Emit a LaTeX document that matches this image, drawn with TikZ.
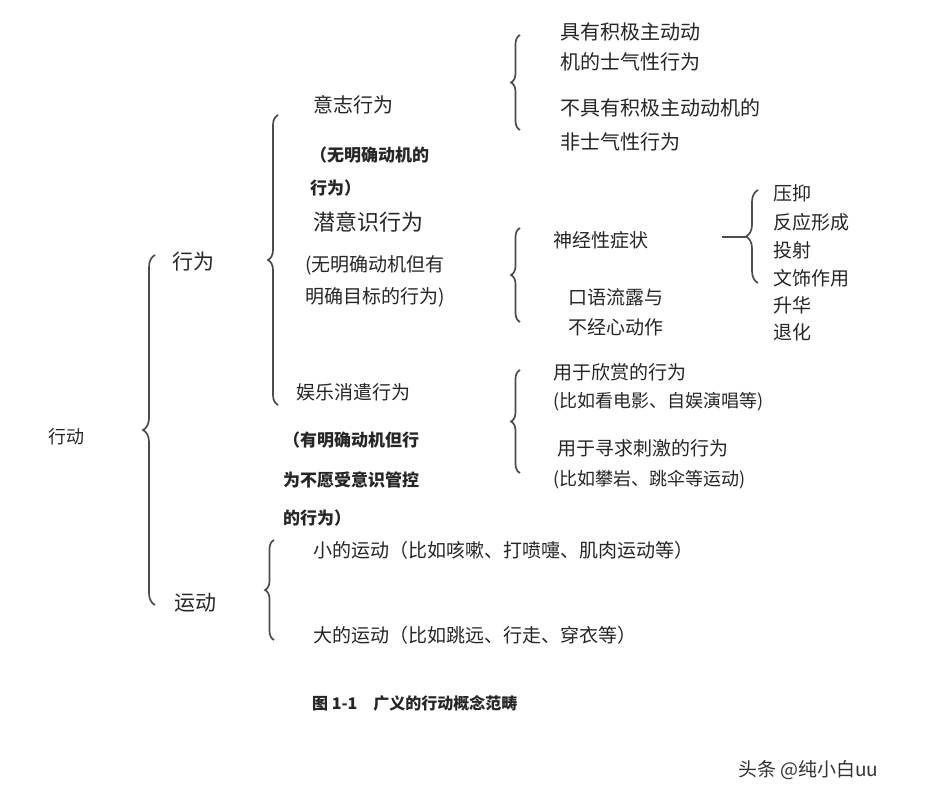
\documentclass[tikz,border=0pt]{standalone}
\usepackage{fontspec}
\setmainfont{Noto Sans CJK SC}
\usetikzlibrary{decorations.pathreplacing}
\begin{document}
\begin{tikzpicture}[x=1pt,y=-1pt,
  t/.style={anchor=west,inner sep=0pt,text=black!85,font=\fontsize{20}{22}\selectfont},
  tb/.style={t,font=\fontsize{17}{20}\bfseries\selectfont},
  br/.style={draw=black!70,line width=1.7pt,decorate,decoration={brace,amplitude=#1}},
  br/.default=9pt]
\fill[white] (0,0) rectangle (937,802);
\useasboundingbox (0,0) rectangle (937,802);
% left column
\node[t,font=\fontsize{18}{20}\selectfont] (xd) at (48,437) {行动};
\node[t,font=\fontsize{21}{22}\selectfont] (xw) at (172,262) {行为};
\node[t,font=\fontsize{21}{22}\selectfont] (yd) at (174,603) {运动};
\draw[br=12pt] (155,605) -- (155,255);
\draw[br=10pt] (278,405) -- (278,115);
\draw[br=9pt] (274,640) -- (274,540);
% middle column
\node[t] (yz) at (313,105) {意志行为};
\node[tb] (yz1) at (310,155) {（无明确动机的};
\node[tb] (yz2) at (310,188) {行为）};
\node[t,font=\fontsize{22}{24}\selectfont] (qy) at (313,222) {潜意识行为};
\node[t,font=\fontsize{19}{22}\selectfont] (qy1) at (305,265) {(无明确动机但有};
\node[t,font=\fontsize{19}{22}\selectfont] (qy2) at (305,297) {明确目标的行为)};
\node[t,font=\fontsize{19}{22}\selectfont] (yl) at (296,392) {娱乐消遣行为};
\node[tb] (yl1) at (283,440) {（有明确动机但行};
\node[tb] (yl2) at (283,480) {为不愿受意识管控};
\node[tb] (yl3) at (283,518) {的行为）};
\node[t,font=\fontsize{19}{22}\selectfont] (xy) at (313,550) {小的运动（比如咳嗽、打喷嚏、肌肉运动等）};
\node[t,font=\fontsize{19}{22}\selectfont] (dy) at (313,635) {大的运动（比如跳远、行走、穿衣等）};
% right column
\draw[br=9pt] (520,130) -- (520,35);
\node[t] (a1) at (560,32) {具有积极主动动};
\node[t] (a2) at (560,62) {机的士气性行为};
\node[t] (b1) at (560,108) {不具有积极主动动机的};
\node[t] (b2) at (560,142) {非士气性行为};
\draw[br=9pt] (520,322) -- (520,228);
\node[t,font=\fontsize{19}{22}\selectfont] (sj) at (553,240) {神经性症状};
\node[t,font=\fontsize{19}{22}\selectfont] (ky1) at (568,297) {口语流露与};
\node[t,font=\fontsize{19}{22}\selectfont] (ky2) at (568,327) {不经心动作};
\draw[br=12pt] (758,283) -- (758,190);
\coordinate (tail) at (722,237);
\draw[draw=black!70,line width=1.7pt] (tail) -- (746,237);
\node[t,font=\fontsize{19}{22}\selectfont] (m1) at (773,193) {压抑};
\node[t,font=\fontsize{19}{22}\selectfont] (m2) at (773,222) {反应形成};
\node[t,font=\fontsize{19}{22}\selectfont] (m3) at (773,250) {投射};
\node[t,font=\fontsize{19}{22}\selectfont] (m4) at (773,278) {文饰作用};
\node[t,font=\fontsize{19}{22}\selectfont] (m5) at (773,305) {升华};
\node[t,font=\fontsize{19}{22}\selectfont] (m6) at (773,332) {退化};
\draw[br=9pt] (520,473) -- (520,370);
\node[t,font=\fontsize{19}{22}\selectfont] (c1) at (553,372) {用于欣赏的行为};
\node[t,font=\fontsize{18}{22}\selectfont] (c2) at (553,402) {(比如看电影、自娱演唱等)};
\node[t,font=\fontsize{19}{22}\selectfont] (d1) at (557,448) {用于寻求刺激的行为};
\node[t,font=\fontsize{18}{22}\selectfont] (d2) at (553,480) {(比如攀岩、跳伞等运动)};
% caption
\node[tb,font=\fontsize{16}{18}\bfseries\selectfont] (cap) at (312,703) {图 1-1\quad 广义的行动概念范畴};
\node[t,font=\fontsize{19}{22}\selectfont,text=black!80] (wm) at (738,770) {头条 @纯小白uu};
\end{tikzpicture}
\end{document}
